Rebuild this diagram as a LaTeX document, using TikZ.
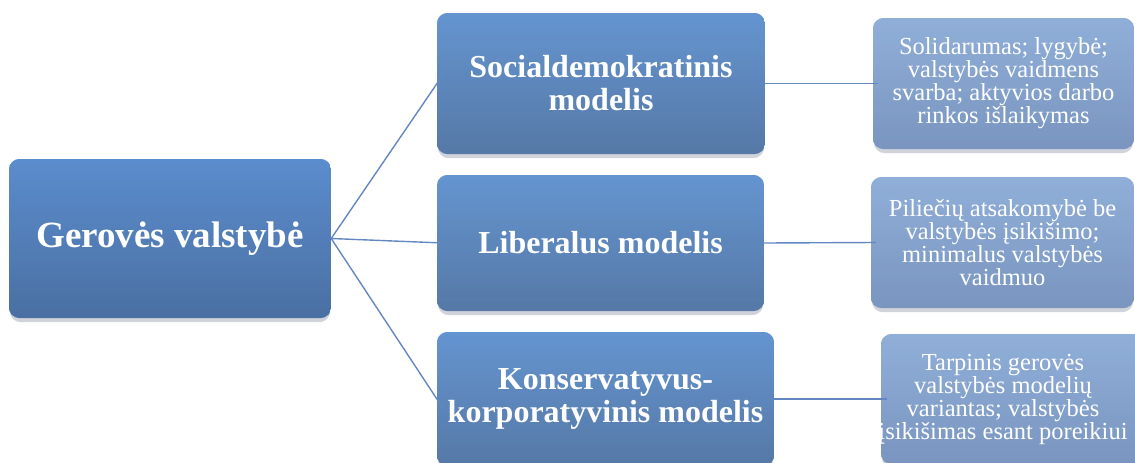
\documentclass[tikz,border=0pt]{standalone}
\usepackage{fontspec}
\newfontfamily\tnr{Liberation Serif}
\usetikzlibrary{backgrounds,calc}
\definecolor{rootTop}{RGB}{91,140,205}
\definecolor{rootBot}{RGB}{74,112,163}
\definecolor{midTop}{RGB}{100,148,207}
\definecolor{midBot}{RGB}{86,121,167}
\definecolor{rightTop}{RGB}{143,174,216}
\definecolor{rightBot}{RGB}{122,150,192}
\definecolor{linkCol}{RGB}{100,135,195}
\definecolor{shadowCol}{RGB}{208,211,217}
\tikzset{
  box/.style={rectangle, draw=none, text=white, align=center, inner sep=0pt},
  rootbox/.style={box, font=\tnr\bfseries\fontsize{37}{40}\selectfont},
  midbox/.style={box, font=\tnr\bfseries\fontsize{32}{33}\selectfont},
  rightbox/.style={box, font=\tnr\fontsize{24.5}{23}\selectfont},
  link/.style={draw=linkCol, line width=1.4pt},
  shade box/.style={fill=shadowCol, rounded corners=11pt}
}
\newcommand\gradfill[3]{%
  \path[shade box] ([xshift=1pt,yshift=-4pt]#1.south west) rectangle ([xshift=-1pt,yshift=-4pt]#1.north east);
  \begin{scope}
    \clip[rounded corners=11pt] (#1.south west) rectangle (#1.north east);
    \foreach \i in {0,...,29}{%
      \pgfmathsetmacro\pa{\i/30}%
      \pgfmathsetmacro\pb{(\i+1.4)/30}%
      \pgfmathsetmacro\pc{100-\i*100/29}%
      \fill[#2!\pc!#3] ($(#1.north west)!\pa!(#1.south west)$) rectangle ($(#1.north east)!\pb!(#1.south east)$);
    }
  \end{scope}}
\begin{document}
\begin{tikzpicture}[x=1pt,y=-1pt]
\useasboundingbox (0,0) rectangle (1135,463);
\node[rootbox, minimum width=322pt, minimum height=159pt] (root) at (170,238.5) {Gerovės valstybė};
\node[midbox, minimum width=328pt, minimum height=141pt] (m1) at (601,83.5) {Socialdemokratinis\\modelis};
\node[midbox, minimum width=327pt, minimum height=136pt] (m2) at (600.5,243) {Liberalus modelis};
\node[midbox, minimum width=337pt, minimum height=134pt] (m3) at (605.5,399) {Konservatyvus-\\korporatyvinis modelis};
\node[rightbox, minimum width=261pt, minimum height=131pt] (r1) at (1003.5,83.5) {Solidarumas; lygybė;\\valstybės vaidmens\\svarba; aktyvios darbo\\rinkos išlaikymas};
\node[rightbox, minimum width=263pt, minimum height=131pt] (r2) at (1002.5,242.5) {Piliečių atsakomybė be\\valstybės įsikišimo;\\minimalus valstybės\\vaidmuo};
\node[rightbox, minimum width=270pt, minimum height=130pt] (r3) at (1016,399) {};
\node[rightbox] (r3t) at (1003,399) {Tarpinis gerovės\\valstybės modelių\\variantas; valstybės\\įsikišimas esant poreikiui};
\begin{pgfonlayer}{background}
\gradfill{root}{rootTop}{rootBot}
\gradfill{m1}{midTop}{midBot}
\gradfill{m2}{midTop}{midBot}
\gradfill{m3}{midTop}{midBot}
\gradfill{r1}{rightTop}{rightBot}
\gradfill{r2}{rightTop}{rightBot}
\gradfill{r3}{rightTop}{rightBot}
\draw[link] (root.east) -- ([xshift=6pt,yshift=8.5pt]m1.west);
\draw[link] (root.east) -- ([xshift=6pt]m2.west);
\draw[link] (root.east) -- ([xshift=6pt,yshift=-9pt]m3.west);
\draw[link] (m1.east) -- ([xshift=5pt]r1.west);
\draw[link] (m2.east) -- ([xshift=5pt]r2.west);
\draw[link] (m3.east) -- ([xshift=6pt]r3.west);
\end{pgfonlayer}
\end{tikzpicture}
\end{document}
